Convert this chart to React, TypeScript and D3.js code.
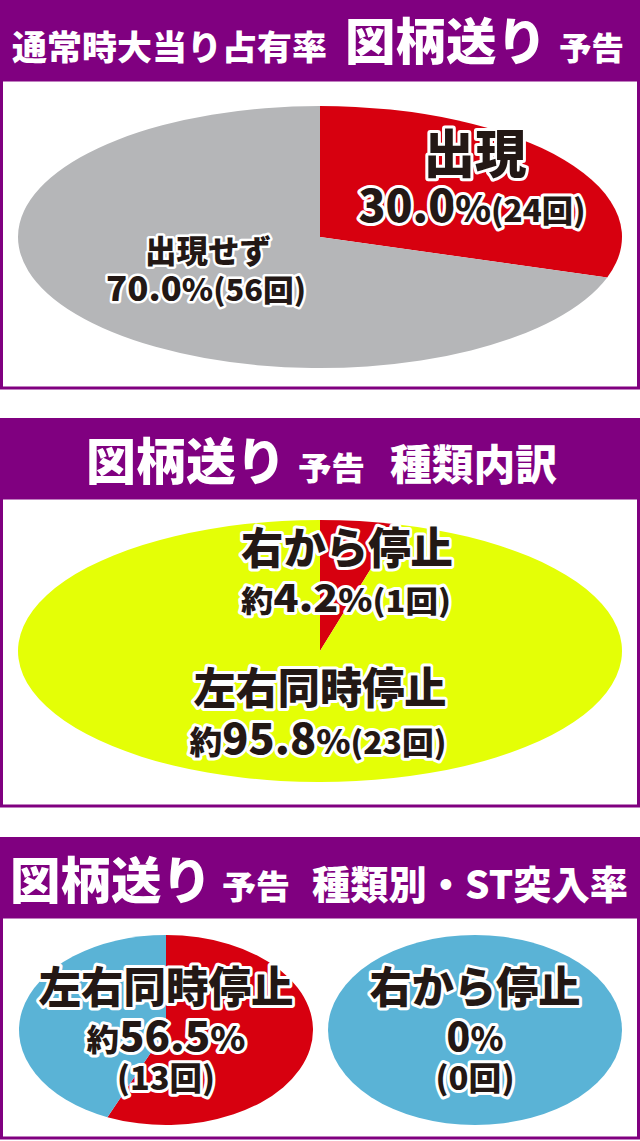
import React from 'react';
import * as d3 from 'd3';

const W = 640;
const H = 1141;
const PURPLE = '#800080';
const INK = '#231815';
const FONT = '"Noto Sans CJK JP", "Noto Sans", sans-serif';

// 通常時大当り占有率
const occurLabels = ['出現', '出現せず'];
const occurCounts = [24, 56];
const occurColors = ['#d7000f', '#b5b6b8'];

// 種類内訳
const kindLabels = ['右から停止', '左右同時停止'];
const kindCounts = [1, 23];
const kindColors = ['#d7000f', '#e4ff06'];

// 種類別・ST突入率
const stLabels = ['左右同時停止', '右から停止'];
const stHits = [13, 0];
const stTotals = [23, 1];
const stColors = ['#d7000f', '#5ab3d6'];

const titles = [
  [
    { t: '通常時大当り占有率', s: 34, x: 12, w: 315 },
    { t: '図柄送り', s: 50, x: 345, w: 202 },
    { t: '予告', s: 32, x: 559, w: 65 },
  ],
  [
    { t: '図柄送り', s: 50, x: 86, w: 200 },
    { t: '予告', s: 32, x: 298, w: 67 },
    { t: '種類内訳', s: 42, x: 390, w: 167 },
  ],
  [
    { t: '図柄送り', s: 50, x: 10, w: 202 },
    { t: '予告', s: 33, x: 222, w: 68 },
    { t: '種類別・ST突入率', s: 39, x: 312, w: 316 },
  ],
];

const panels = [
  { top: 0, head: 80, bottom: 388, base: 60 },
  { top: 418, head: 80, bottom: 806, base: 480 },
  { top: 837, head: 80, bottom: 1138, base: 899 },
];

type Part = { t: string; s: number };

const pct = (v: number, total: number) => (v / total * 100).toFixed(1);

const R = 100;

const Pie = ({ cx, cy, rx, ry, values, colors }: { cx: number; cy: number; rx: number; ry: number; values: number[]; colors: string[] }) => {
  const arcs = d3.pie<number>().sort(null)(values);
  const arc = d3.arc<d3.PieArcDatum<number>>().innerRadius(0).outerRadius(R);
  return (
    <g transform={`translate(${cx},${cy}) scale(${rx / R},${ry / R})`}>
      {arcs.map((a, i) => (
        <path key={i} d={arc(a) || ''} fill={colors[i]} />
      ))}
    </g>
  );
};

const Line = ({ x, y, w, parts, sw = 6 }: { x: number; y: number; w: number; parts: Part[]; sw?: number }) => (
  <text
    x={x - w / 2}
    y={y}
    textLength={w}
    lengthAdjust="spacingAndGlyphs"
    fill={INK}
    stroke="#fff"
    strokeWidth={sw}
    strokeLinejoin="round"
    paintOrder="stroke"
    fontFamily={FONT}
    fontWeight={900}
  >
    {parts.map((p, i) => (
      <tspan key={i} fontSize={p.s}>{p.t}</tspan>
    ))}
  </text>
);

export default function App() {
  const occTotal = d3.sum(occurCounts);
  const kindTotal = d3.sum(kindCounts);
  const stText = (i: number) => (stHits[i] === 0 ? '0' : pct(stHits[i], stTotals[i]));

  return (
    <svg
      width={W}
      height={H}
      viewBox={`0 0 ${W} ${H}`}
      style={{ position: 'absolute', left: 0, top: 0, display: 'block', background: '#fff' }}
    >
      {panels.map((p, i) => (
        <g key={i}>
          <rect x={1.5} y={p.top + p.head} width={W - 3} height={p.bottom - p.top - p.head} fill="#fff" stroke={PURPLE} strokeWidth={3} />
          <rect x={0} y={p.top} width={W} height={p.head} fill={PURPLE} />
          {titles[i].map((t, j) => (
            <text
              key={j}
              x={t.x}
              y={p.base}
              fontSize={t.s}
              textLength={t.w}
              lengthAdjust="spacingAndGlyphs"
              fill="#fff"
              fontFamily={FONT}
              fontWeight={900}
            >
              {t.t}
            </text>
          ))}
        </g>
      ))}

      {/* 占有率 */}
      <Pie cx={320} cy={237} rx={302} ry={131} values={occurCounts} colors={occurColors} />
      <Line x={475} y={173} w={103} parts={[{ t: occurLabels[0], s: 52 }]} />
      <Line x={472} y={222} w={227} parts={[
        { t: pct(occurCounts[0], occTotal), s: 44 },
        { t: '%', s: 36 },
        { t: `(${occurCounts[0]}回)`, s: 31 },
      ]} />
      <Line x={208} y={263} w={126} sw={5} parts={[{ t: occurLabels[1], s: 32 }]} />
      <Line x={206} y={301} w={200} sw={5} parts={[
        { t: pct(occurCounts[1], occTotal), s: 34 },
        { t: '%', s: 31 },
        { t: `(${occurCounts[1]}回)`, s: 30 },
      ]} />

      {/* 種類内訳 */}
      <Pie cx={320} cy={651} rx={302} ry={131} values={kindCounts} colors={kindColors} />
      <Line x={347} y={564} w={212} parts={[{ t: kindLabels[0], s: 43 }]} />
      <Line x={346} y={612} w={210} parts={[
        { t: '約', s: 30 },
        { t: pct(kindCounts[0], kindTotal), s: 38 },
        { t: '%', s: 32 },
        { t: `(${kindCounts[0]}回)`, s: 30 },
      ]} />
      <Line x={320} y={704} w={253} parts={[{ t: kindLabels[1], s: 43 }]} />
      <Line x={318} y={754} w={257} parts={[
        { t: '約', s: 32 },
        { t: pct(kindCounts[1], kindTotal), s: 42 },
        { t: '%', s: 34 },
        { t: `(${kindCounts[1]}回)`, s: 31 },
      ]} />

      {/* 種類別・ST突入率 */}
      {[166, 475].map((cx, i) => (
        <g key={i}>
          <Pie cx={cx} cy={1030} rx={147} ry={95} values={[stHits[i], stTotals[i] - stHits[i]]} colors={stColors} />
          <Line x={cx} y={1003} w={i === 0 ? 255 : 211} parts={[{ t: stLabels[i], s: 43 }]} />
          <Line x={cx} y={1051} w={i === 0 ? 159 : 57} parts={
            stHits[i] === 0
              ? [{ t: stText(i), s: 40 }, { t: '%', s: 34 }]
              : [{ t: '約', s: 31 }, { t: stText(i), s: 40 }, { t: '%', s: 34 }]
          } />
          <Line x={cx} y={1090} w={i === 0 ? 98 : 79} parts={[{ t: `(${stHits[i]}回)`, s: 32 }]} />
        </g>
      ))}
    </svg>
  );
}
